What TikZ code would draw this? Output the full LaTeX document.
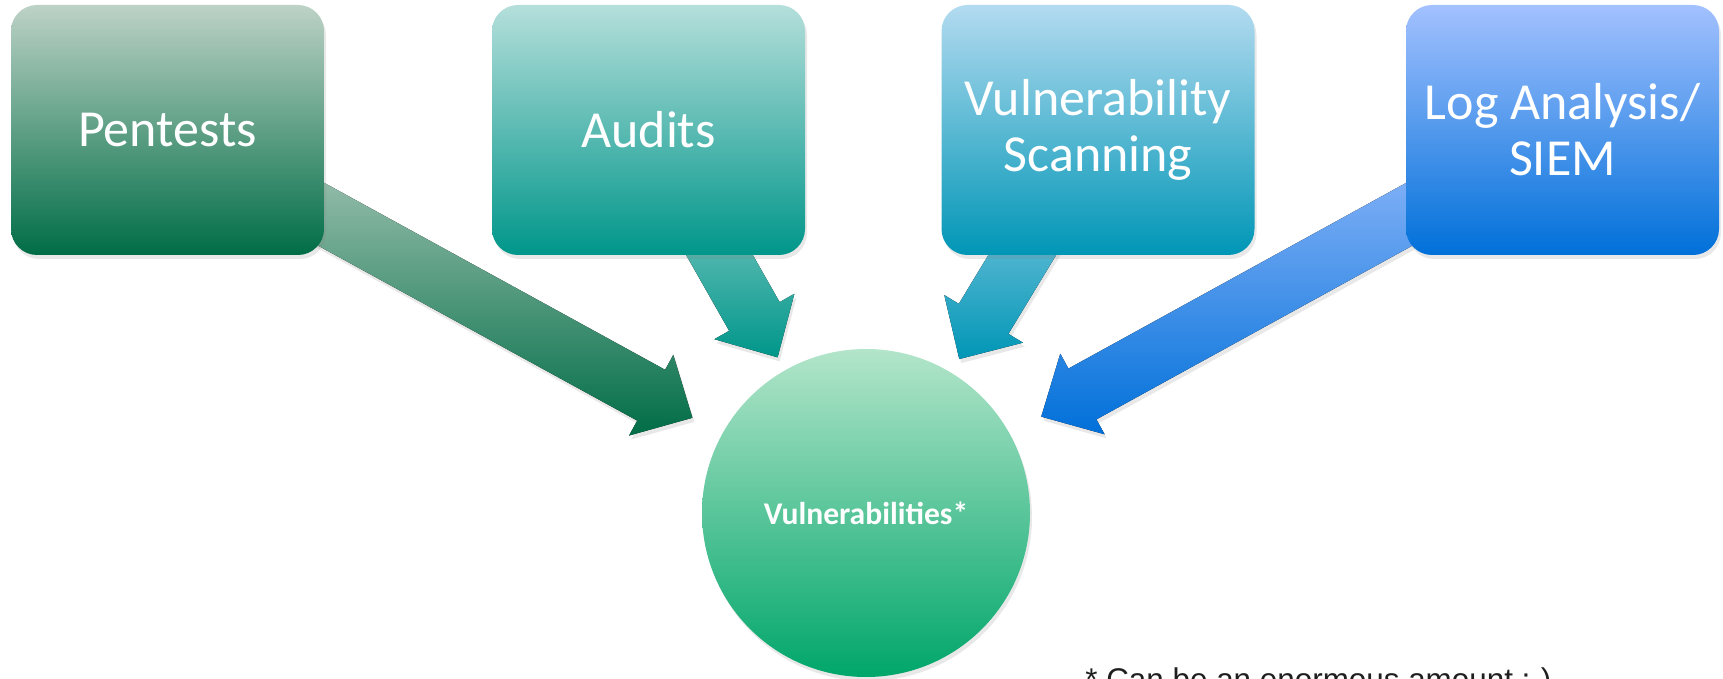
\documentclass[tikz,border=0pt]{standalone}
\usepackage{fontspec}
\setmainfont{Carlito}
\newfontfamily\notefont{Liberation Sans}
\usetikzlibrary{calc,shadows,backgrounds}

\definecolor{pentTop}{HTML}{BDD2C6}
\definecolor{pentMid}{HTML}{8CB69F}
\definecolor{pentBot}{HTML}{006D46}
\definecolor{auditTop}{HTML}{B5DFDB}
\definecolor{auditBot}{HTML}{00968A}
\definecolor{scanTop}{HTML}{B3DBF0}
\definecolor{scanBot}{HTML}{0096B6}
\definecolor{logTop}{HTML}{A3C1FF}
\definecolor{logMid}{HTML}{7EA8F0}
\definecolor{logBot}{HTML}{0070D9}
\definecolor{hubTop}{HTML}{B3E5CA}
\definecolor{hubBot}{HTML}{00A66A}

% wide arrow from a box centre to a tip coordinate
\newcommand{\fatarrow}[3]{%
  \coordinate (#3-base) at ($(#3)!23.5pt!(#2)$);
  \fill[#1] ($(#2)!14.5pt!90:(#3)$) -- ($(#3-base)!14.5pt!90:(#3)$)
    -- ($(#3-base)!23pt!90:(#3)$) -- (#3)
    -- ($(#3-base)!23pt!-90:(#3)$) -- ($(#3-base)!14.5pt!-90:(#3)$)
    -- ($(#2)!14.5pt!-90:(#3)$) -- cycle;
}

\begin{document}
\begin{tikzpicture}[%
    x=0.5pt,
    y=-0.5pt,
    softshadow/.style={%
      drop shadow={opacity=0.18, shadow xshift=1pt, shadow yshift=-2pt}
    },
    source/.style={%
      rectangle,
      rounded corners=13pt,
      minimum width=156.5pt,
      minimum height=125pt,
      inner sep=0pt,
      align=center,
      text=white,
      font=\fontsize{26}{28}\selectfont,
      softshadow
    },
    hub/.style={%
      circle,
      minimum size=164pt,
      inner sep=0pt,
      text=white,
      font=\bfseries\fontsize{15.8}{19}\selectfont,
      top color=hubTop,
      bottom color=hubBot,
      softshadow
    }
  ]
    \useasboundingbox (0,0) rectangle (1723,679);

    \node[source, top color=pentTop, bottom color=pentBot]   (pent)  at (167.5,130)  {Pentests};
    \node[source, top color=auditTop, bottom color=auditBot] (audit) at (648.5,130)  {Audits};
    \node[source, top color=scanTop, bottom color=scanBot]   (scan)  at (1098,130)   {Vulnerability\\Scanning};
    \node[source, top color=logTop, bottom color=logBot]     (log)   at (1562.5,130) {Log Analysis/\\SIEM};

    \node[hub] (vulns) at (866,513) {Vulnerabilities*};

    \coordinate (pent-tip)  at ($(vulns)!99pt!(pent)$);
    \coordinate (audit-tip) at ($(vulns)!89.5pt!(audit)$);
    \coordinate (scan-tip)  at ($(vulns)!90pt!(scan)$);
    \coordinate (log-tip)   at ($(vulns)!100pt!(log)$);

    \begin{scope}[on background layer]
      \fatarrow{top color=pentTop, middle color=pentMid, bottom color=pentBot, softshadow}{pent}{pent-tip}
      \fatarrow{top color=auditTop, bottom color=auditBot, softshadow}{audit}{audit-tip}
      \fatarrow{top color=scanTop, bottom color=scanBot, softshadow}{scan}{scan-tip}
      \fatarrow{top color=logTop, middle color=logMid, bottom color=logBot, softshadow}{log}{log-tip}
    \end{scope}

    \node[anchor=base west, inner sep=0pt, text=black!88,
          font=\notefont\fontsize{15.7}{18}\selectfont] (note) at (1085,690.5)
          {* Can be an enormous amount ;-)};
  \end{tikzpicture}
\end{document}
